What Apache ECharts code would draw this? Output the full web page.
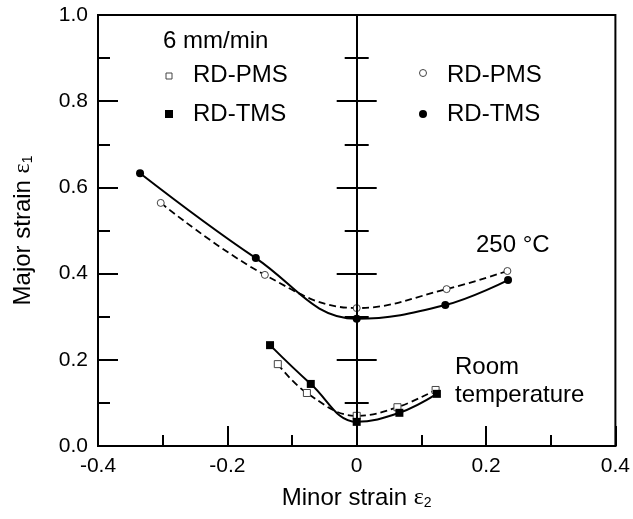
<!DOCTYPE html>
<html><head><meta charset="utf-8">
<script src="https://cdn.jsdelivr.net/npm/echarts@6/dist/echarts.min.js"></script>
<style>html,body{margin:0;padding:0;background:#fff}#c{width:633px;height:519px}</style>
</head><body><div id="c"></div>
<script>
// Data (minor strain e2, major strain e1)
const rtPmsX = [-0.122, -0.077, 0.000, 0.063, 0.122];
const rtPmsY = [0.190, 0.123, 0.070, 0.090, 0.130];
const rtTmsX = [-0.134, -0.071, 0.000, 0.066, 0.124];
const rtTmsY = [0.234, 0.144, 0.056, 0.077, 0.121];
const ht250PmsX = [-0.303, -0.142, 0.000, 0.139, 0.233];
const ht250PmsY = [0.564, 0.397, 0.320, 0.364, 0.406];
const ht250TmsX = [-0.335, -0.156, 0.000, 0.137, 0.234];
const ht250TmsY = [0.633, 0.436, 0.295, 0.327, 0.385];
const xTicks = [-0.4, -0.2, 0, 0.2, 0.4];
const yTicks = [0.0, 0.2, 0.4, 0.6, 0.8, 1.0];

const zip = (xs, ys) => xs.map((x, i) => [x, ys[i]]);
const FONT = 'Liberation Sans, Arial, sans-serif';

const hollow = {color: '#fff', borderColor: '#444', borderWidth: 1};
const filled = {color: '#000', borderColor: '#000', borderWidth: 0};

function mk(name, data, symbol, size, isHollow, dashed) {
  return {
    type: 'line', name, data, smooth: 0.4, symbol, symbolSize: size,
    showAllSymbol: true,
    itemStyle: isHollow ? hollow : filled,
    lineStyle: {color: '#000', width: dashed ? 1.8 : 2, type: dashed ? [7, 4] : 'solid'},
    emphasis: {disabled: true}, z: 3
  };
}

const centerAxisBase = {
  type: 'value', min: 0, max: 1, interval: 0.2, position: 'left',
  axisLine: {show: true, onZero: true, onZeroAxisIndex: 0, lineStyle: {color: '#000', width: 2}},
  minorTick: {show: true, splitNumber: 2, length: 12, lineStyle: {color: '#000', width: 2}},
  axisLabel: {show: false}, splitLine: {show: false}, minorSplitLine: {show: false}, z: 5
};

const chart = echarts.init(document.getElementById('c'), null, {renderer: 'canvas'});
chart.setOption({
  animation: false,
  backgroundColor: '#fff',
  grid: {left: 98, right: 15, top: 15, bottom: 73, show: true, borderColor: '#000', borderWidth: 2, backgroundColor: 'transparent'},
  xAxis: {
    type: 'value', min: xTicks[0], max: xTicks[xTicks.length - 1], interval: 0.2,
    axisLine: {onZero: false, lineStyle: {color: '#000', width: 2}},
    axisTick: {inside: true, length: 20, lineStyle: {color: '#000', width: 2}},
    minorTick: {show: true, splitNumber: 2, length: 11, lineStyle: {color: '#000', width: 2}},
    axisLabel: {color: '#000', fontSize: 21, fontFamily: FONT, margin: 10,
      formatter: v => (Math.abs(v) < 1e-9 ? '0' : v.toFixed(1))},
    splitLine: {show: false},
    name: 'Minor strain {e|ε}{s|2}', nameLocation: 'middle', nameGap: 40,
    nameTextStyle: {color: '#000', fontSize: 24, fontFamily: FONT,
      rich: {e: {fontSize: 24, fontFamily: 'Liberation Serif, Times New Roman, serif', color: '#000'},
             s: {fontSize: 14, fontFamily: FONT, color: '#000', verticalAlign: 'bottom', padding: [10, 0, 0, 0]}}}
  },
  yAxis: [{
    type: 'value', min: yTicks[0], max: yTicks[yTicks.length - 1], interval: 0.2, position: 'left',
    axisLine: {show: true, onZero: false, lineStyle: {color: '#000', width: 2}},
    axisTick: {inside: true, length: 20, lineStyle: {color: '#000', width: 2}},
    minorTick: {show: true, splitNumber: 2, length: 12, lineStyle: {color: '#000', width: 2}},
    axisLabel: {color: '#000', fontSize: 21, fontFamily: FONT, margin: 10, formatter: v => v.toFixed(1)},
    splitLine: {show: false},
    name: 'Major strain {e|ε}{s|1}', nameLocation: 'middle', nameRotate: 90, nameGap: 63,
    nameTextStyle: {color: '#000', fontSize: 24, fontFamily: FONT,
      rich: {e: {fontSize: 24, fontFamily: 'Liberation Serif, Times New Roman, serif', color: '#000'},
             s: {fontSize: 14, fontFamily: FONT, color: '#000', verticalAlign: 'bottom', padding: [10, 0, 0, 0]}}}
  },
  Object.assign({}, centerAxisBase, {axisTick: {inside: true, length: 20, lineStyle: {color: '#000', width: 2}},
    minorTick: {show: true, splitNumber: 2, length: 12, lineStyle: {color: '#000', width: 2}}}),
  Object.assign({}, centerAxisBase, {axisTick: {inside: false, length: 20, lineStyle: {color: '#000', width: 2}},
    minorTick: {show: true, splitNumber: 2, length: 12, lineStyle: {color: '#000', width: 2}}})
  ],
  series: [
    mk('RT RD-PMS', zip(rtPmsX, rtPmsY), 'rect', 7, true, true),
    mk('RT RD-TMS', zip(rtTmsX, rtTmsY), 'rect', 8, false, false),
    mk('250 RD-PMS', zip(ht250PmsX, ht250PmsY), 'circle', 7, true, true),
    mk('250 RD-TMS', zip(ht250TmsX, ht250TmsY), 'circle', 8, false, false)
  ],
  graphic: [
    {type: 'text', x: 163, y: 41, style: {text: '6 mm/min', font: '24px ' + FONT, fill: '#000', textAlign: 'left', textVerticalAlign: 'middle', verticalAlign: 'middle'}},
    {type: 'rect', shape: {x: 166, y: 73, width: 6, height: 6}, style: {fill: '#fff', stroke: '#444', lineWidth: 1}},
    {type: 'text', x: 193, y: 75, style: {text: 'RD-PMS', font: '24px ' + FONT, fill: '#000', textAlign: 'left', textVerticalAlign: 'middle', verticalAlign: 'middle'}},
    {type: 'rect', shape: {x: 165, y: 110, width: 8, height: 8}, style: {fill: '#000'}},
    {type: 'text', x: 193, y: 114, style: {text: 'RD-TMS', font: '24px ' + FONT, fill: '#000', textAlign: 'left', textVerticalAlign: 'middle', verticalAlign: 'middle'}},
    {type: 'circle', shape: {cx: 423, cy: 73, r: 3.5}, style: {fill: '#fff', stroke: '#444', lineWidth: 1}},
    {type: 'text', x: 447, y: 75, style: {text: 'RD-PMS', font: '24px ' + FONT, fill: '#000', textAlign: 'left', textVerticalAlign: 'middle', verticalAlign: 'middle'}},
    {type: 'circle', shape: {cx: 423, cy: 114, r: 4}, style: {fill: '#000'}},
    {type: 'text', x: 447, y: 114, style: {text: 'RD-TMS', font: '24px ' + FONT, fill: '#000', textAlign: 'left', textVerticalAlign: 'middle', verticalAlign: 'middle'}},
    {type: 'text', x: 476, y: 245, style: {text: '250 °C', font: '24px ' + FONT, fill: '#000', textAlign: 'left', textVerticalAlign: 'middle', verticalAlign: 'middle'}},
    {type: 'text', x: 455, y: 367, style: {text: 'Room', font: '24px ' + FONT, fill: '#000', textAlign: 'left', textVerticalAlign: 'middle', verticalAlign: 'middle'}},
    {type: 'text', x: 455, y: 395, style: {text: 'temperature', font: '24px ' + FONT, fill: '#000', textAlign: 'left', textVerticalAlign: 'middle', verticalAlign: 'middle'}}
  ]
});
</script></body></html>
